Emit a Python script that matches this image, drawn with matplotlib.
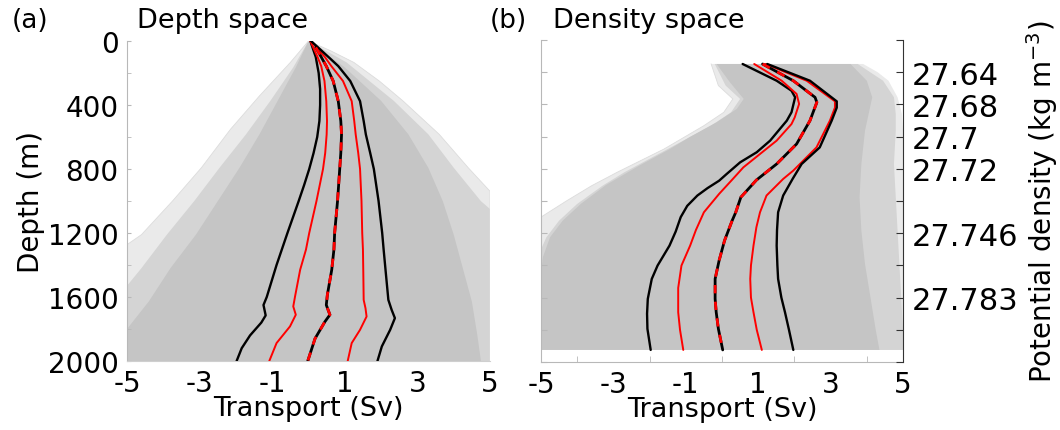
import numpy as np
import matplotlib
matplotlib.use("Agg")
import matplotlib.pyplot as plt

plt.rcParams['font.family'] = ['DejaVu Sans']

# ---------------- data: panel (a) depth space ----------------
# percentile curves (transport Sv vs depth m)
a_black_lo_depth = [0, 100, 200, 300, 400, 500, 600, 700, 800, 900, 1000, 1200, 1400, 1600, 1650, 1715, 1760, 1840, 1920, 2000]
a_black_lo_sv = [0.05, 0.2, 0.28, 0.32, 0.32, 0.3, 0.24, 0.14, 0.02, -0.12, -0.27, -0.58, -0.88, -1.15, -1.24, -1.18, -1.30, -1.61, -1.84, -1.98]
a_red_lo_depth = [0, 100, 157, 250, 376, 500, 584, 700, 800, 1000, 1200, 1304, 1430, 1596, 1659, 1711, 1784, 1888, 2000]
a_red_lo_sv = [0.05, 0.25, 0.35, 0.44, 0.49, 0.51, 0.50, 0.46, 0.40, 0.22, 0.02, -0.07, -0.23, -0.37, -0.42, -0.35, -0.51, -0.88, -1.08]
a_median_depth = [40, 100, 157, 250, 376, 500, 584, 700, 800, 1000, 1200, 1304, 1430, 1586, 1650, 1711, 1755, 1860, 2000]
a_median_sv = [0.2, 0.35, 0.49, 0.68, 0.82, 0.89, 0.91, 0.89, 0.86, 0.80, 0.72, 0.70, 0.64, 0.52, 0.49, 0.59, 0.45, 0.18, -0.02]
a_red_hi_depth = [0, 100, 157, 250, 376, 500, 584, 700, 800, 1000, 1200, 1304, 1450, 1618, 1670, 1722, 1805, 1888, 2000]
a_red_hi_sv = [0.07, 0.45, 0.63, 0.95, 1.19, 1.26, 1.30, 1.37, 1.42, 1.46, 1.48, 1.50, 1.51, 1.52, 1.57, 1.60, 1.42, 1.19, 1.08]
a_black_hi_depth = [0, 100, 157, 250, 376, 500, 584, 700, 800, 1000, 1200, 1304, 1450, 1618, 1680, 1732, 1805, 1909, 2000]
a_black_hi_sv = [0.07, 0.55, 0.82, 1.15, 1.42, 1.52, 1.58, 1.70, 1.80, 1.93, 2.03, 2.07, 2.13, 2.20, 2.29, 2.38, 2.25, 2.02, 1.90]

# ensemble envelopes (outer sparse lines, intermediate band, dense core)
a_outer_left_depth = [0, 134, 343, 552, 792, 1001, 1210, 1273, 2000]
a_outer_left_sv = [0, -0.5, -1.35, -2.15, -2.95, -3.75, -4.6, -5.0, -5.0]
a_outer_right_depth = [0, 60, 134, 250, 374, 583, 792, 939, 2000]
a_outer_right_sv = [0, 0.6, 1.25, 1.95, 2.6, 3.6, 4.4, 5.0, 5.0]
a_mid_left_depth = [0, 165, 374, 583, 792, 1001, 1210, 1419, 1530, 2000]
a_mid_left_sv = [0, -0.42, -1.05, -1.72, -2.45, -3.15, -3.9, -4.6, -5.0, -5.0]
a_mid_right_depth = [0, 134, 374, 583, 792, 1001, 1050, 2000]
a_mid_right_sv = [0, 1.05, 2.35, 3.3, 4.0, 4.75, 5.0, 5.0]
a_core_left_depth = [0, 165, 374, 583, 792, 1001, 1210, 1419, 1628, 1800, 2000]
a_core_left_sv = [0, -0.35, -0.85, -1.35, -1.9, -2.5, -3.1, -3.8, -4.4, -5.0, -5.0]
a_core_right_depth = [0, 165, 374, 583, 792, 1001, 1210, 1419, 1628, 1837, 2000]
a_core_right_sv = [0, 1.0, 2.0, 2.75, 3.3, 3.7, 4.0, 4.25, 4.5, 4.65, 4.75]

# ---------------- data: panel (b) density space ----------------
b_black_lo_y = [149, 253, 315, 356, 449, 501, 563, 625, 697, 760, 832, 874, 920, 966, 1030, 1100, 1190, 1277, 1401, 1484, 1608, 1700, 1794, 1925]
b_black_lo_sv = [0.57, 1.51, 1.92, 2.02, 1.92, 1.79, 1.56, 1.33, 0.96, 0.50, 0.13, -0.08, -0.40, -0.68, -0.96, -1.14, -1.28, -1.45, -1.78, -1.94, -2.05, -2.07, -2.06, -1.97]
b_red_lo_y = [149, 253, 335, 397, 480, 522, 625, 708, 791, 863, 956, 1070, 1180, 1277, 1401, 1540, 1691, 1800, 1925]
b_red_lo_sv = [0.89, 1.65, 2.06, 2.13, 2.01, 1.92, 1.51, 1.05, 0.59, 0.30, -0.08, -0.50, -0.72, -0.88, -1.12, -1.21, -1.21, -1.16, -1.07]
b_median_y = [149, 253, 356, 387, 501, 646, 770, 870, 977, 1070, 1122, 1246, 1370, 1484, 1608, 1691, 1794, 1925]
b_median_sv = [1.12, 1.97, 2.57, 2.62, 2.43, 2.06, 1.51, 0.95, 0.52, 0.38, 0.28, 0.07, -0.08, -0.19, -0.19, -0.16, -0.10, 0.02]
b_red_hi_y = [149, 253, 381, 420, 501, 667, 811, 863, 966, 1070, 1163, 1277, 1400, 1484, 1600, 1691, 1800, 1925]
b_red_hi_sv = [1.20, 2.34, 3.12, 3.12, 2.98, 2.61, 1.97, 1.69, 1.23, 1.05, 0.95, 0.87, 0.80, 0.78, 0.80, 0.87, 0.96, 1.10]
b_black_hi_y = [149, 253, 381, 420, 501, 667, 770, 863, 966, 1070, 1180, 1277, 1400, 1484, 1600, 1691, 1800, 1925]
b_black_hi_sv = [1.25, 2.43, 3.17, 3.17, 3.03, 2.70, 2.20, 1.95, 1.69, 1.55, 1.52, 1.51, 1.53, 1.55, 1.64, 1.74, 1.85, 1.97]

b_outer_left_y = [149, 283, 366, 449, 532, 677, 822, 905, 1000, 1100, 1925]
b_outer_left_sv = [-0.3, -0.1, 0.3, 0.05, -0.5, -1.6, -2.9, -3.6, -4.3, -5.0, -5.0]
b_outer_right_y = [149, 200, 253, 356, 460, 564, 1925]
b_outer_right_sv = [3.9, 4.3, 4.6, 4.85, 4.97, 5.0, 5.0]
b_mid_left_y = [149, 283, 366, 449, 532, 677, 822, 905, 1018, 1122, 1225, 1300, 1925]
b_mid_left_sv = [-0.2, 0.1, 0.5, 0.25, -0.3, -1.5, -2.7, -3.3, -4.0, -4.5, -4.85, -5.0, -5.0]
b_mid_right_y = [149, 253, 356, 460, 564, 770, 977, 1184, 1391, 1597, 1805, 1925]
b_mid_right_sv = [3.75, 4.45, 4.75, 4.8, 4.8, 4.75, 4.8, 4.85, 4.9, 4.95, 5.0, 5.0]
b_core_left_y = [149, 263, 366, 428, 511, 604, 677, 782, 900, 1018, 1122, 1225, 1350, 1450, 1925]
b_core_left_sv = [-0.15, 0.22, 0.6, 0.41, -0.15, -0.9, -1.44, -2.3, -3.2, -3.9, -4.4, -4.75, -4.95, -5.0, -5.0]
b_core_right_y = [149, 253, 356, 460, 564, 770, 977, 1184, 1391, 1597, 1805, 1925]
b_core_right_sv = [3.55, 4.0, 4.15, 4.05, 3.95, 3.85, 3.8, 3.85, 3.95, 4.1, 4.25, 4.35]

# tick labels
x_ticks = [-5, -3, -1, 1, 3, 5]
depth_ticks = [0, 400, 800, 1200, 1600, 2000]
density_tick_pos = [200, 400, 600, 800, 1200, 1600]
density_tick_labels = ['27.64', '27.68', '27.7', '27.72', '27.746', '27.783']

C_OUTER = '#eaeaea'
C_MID = '#d4d4d4'
C_CORE = '#c5c5c5'
SPINE_LIGHT = '#b8b8b8'
RED = '#ff0000'


def envelope(ax, lx, ly, rx, ry, color):
    xs = np.concatenate([np.asarray(lx, float), np.asarray(rx, float)[::-1]])
    ys = np.concatenate([np.asarray(ly, float), np.asarray(ry, float)[::-1]])
    ax.fill(xs, ys, color=color, lw=0, zorder=1)


def curves(ax, bl, rl, md, rh, bh):
    kw = dict(solid_joinstyle='round', solid_capstyle='round')
    ax.plot(bl[0], bl[1], color='black', lw=1.7, zorder=3, **kw)
    ax.plot(rl[0], rl[1], color=RED, lw=1.4, zorder=3, **kw)
    ax.plot(rh[0], rh[1], color=RED, lw=1.4, zorder=3, **kw)
    ax.plot(bh[0], bh[1], color='black', lw=1.7, zorder=3, **kw)
    ax.plot(md[0], md[1], color='black', lw=2.0, zorder=4, **kw)
    ax.plot(md[0], md[1], color=RED, lw=2.0, zorder=5, dashes=(3, 3))


fig = plt.figure(figsize=(10.6, 4.31), dpi=100)

# ---------------- panel (a) ----------------
axA = fig.add_axes([127 / 1060, 1 - 362 / 431, 363 / 1060, 320 / 431])
envelope(axA, a_outer_left_sv, a_outer_left_depth, a_outer_right_sv, a_outer_right_depth, C_OUTER)
envelope(axA, a_mid_left_sv, a_mid_left_depth, a_mid_right_sv, a_mid_right_depth, C_MID)
envelope(axA, a_core_left_sv, a_core_left_depth, a_core_right_sv, a_core_right_depth, C_CORE)
axA.plot(a_outer_left_sv, a_outer_left_depth, color='#dcdcdc', lw=0.6, zorder=2)
axA.plot(a_outer_right_sv, a_outer_right_depth, color='#dcdcdc', lw=0.6, zorder=2)
curves(axA, (a_black_lo_sv, a_black_lo_depth), (a_red_lo_sv, a_red_lo_depth),
       (a_median_sv, a_median_depth), (a_red_hi_sv, a_red_hi_depth),
       (a_black_hi_sv, a_black_hi_depth))
axA.set_xlim(-5, 5)
axA.set_ylim(2000, 0)
axA.set_xticks(x_ticks)
axA.set_xticklabels([str(v) for v in x_ticks])
axA.set_yticks(depth_ticks)
axA.set_yticklabels([str(v) for v in depth_ticks])
axA.set_yticks(np.arange(0, 2001, 200), minor=True)
for s in ['top', 'right']:
    axA.spines[s].set_visible(False)
axA.spines['left'].set_color(SPINE_LIGHT)
axA.spines['bottom'].set_color('#cfcfcf')
axA.spines['left'].set_linewidth(0.8)
axA.spines['bottom'].set_linewidth(0.8)
axA.tick_params(axis='x', length=0, labelsize=20, pad=6)
axA.tick_params(axis='y', which='major', direction='in', length=3, color=SPINE_LIGHT, labelsize=20, pad=6)
axA.tick_params(axis='y', which='minor', direction='in', length=3, color=SPINE_LIGHT)
axA.set_xlabel('Transport (Sv)', fontsize=19.5, labelpad=-2)
axA.set_ylabel('Depth (m)', fontsize=20, labelpad=2)

# ---------------- panel (b) ----------------
axB = fig.add_axes([541 / 1060, 1 - 363 / 431, 362 / 1060, 322 / 431])
envelope(axB, b_outer_left_sv, b_outer_left_y, b_outer_right_sv, b_outer_right_y, C_OUTER)
envelope(axB, b_mid_left_sv, b_mid_left_y, b_mid_right_sv, b_mid_right_y, C_MID)
envelope(axB, b_core_left_sv, b_core_left_y, b_core_right_sv, b_core_right_y, C_CORE)
axB.plot(b_outer_left_sv, b_outer_left_y, color='#dcdcdc', lw=0.6, zorder=2)
curves(axB, (b_black_lo_sv, b_black_lo_y), (b_red_lo_sv, b_red_lo_y),
       (b_median_sv, b_median_y), (b_red_hi_sv, b_red_hi_y),
       (b_black_hi_sv, b_black_hi_y))
axB.set_xlim(-5, 5)
axB.set_ylim(2000, 0)
axB.set_xticks(x_ticks)
axB.set_xticklabels([str(v) for v in x_ticks])
axB.set_xticks(np.arange(-4, 5, 1), minor=True)
axB.set_yticks(np.arange(0, 2001, 200))
axB.set_yticklabels([])
axB.spines['top'].set_visible(False)
axB.spines['right'].set_visible(False)
axB.spines['left'].set_color(SPINE_LIGHT)
axB.spines['bottom'].set_color(SPINE_LIGHT)
axB.tick_params(axis='x', which='major', length=0, labelsize=20, pad=6)
axB.tick_params(axis='x', which='minor', direction='in', length=4, color=SPINE_LIGHT)
axB.tick_params(axis='y', direction='in', length=4, color=SPINE_LIGHT, labelleft=False)
axB.set_xlabel('Transport (Sv)', fontsize=19.5, labelpad=-2)

axB2 = axB.twinx()
axB2.set_ylim(2000, 0)
axB2.set_yticks(np.arange(0, 2001, 200))
lab = []
for v in np.arange(0, 2001, 200):
    lab.append(density_tick_labels[density_tick_pos.index(v)] if v in density_tick_pos else '')
axB2.set_yticklabels(lab)
for s in ['top', 'left', 'bottom']:
    axB2.spines[s].set_visible(False)
axB2.spines['right'].set_color('#333333')
axB2.tick_params(axis='y', direction='in', length=5, color='#333333', labelsize=22, pad=6)
axB2.set_ylabel('Potential density (kg m$^{-3}$)', fontsize=20, labelpad=4)

# titles and panel letters
fig.text(12 / 1060, 1 - 21 / 431, '(a)', fontsize=19, va='center', ha='left')
fig.text(137 / 1060, 1 - 21 / 431, 'Depth space', fontsize=19.5, va='center', ha='left')
fig.text(490 / 1060, 1 - 21 / 431, '(b)', fontsize=19, va='center', ha='left')
fig.text(553 / 1060, 1 - 21 / 431, 'Density space', fontsize=19.5, va='center', ha='left')

fig.savefig('out.png', dpi=100)
